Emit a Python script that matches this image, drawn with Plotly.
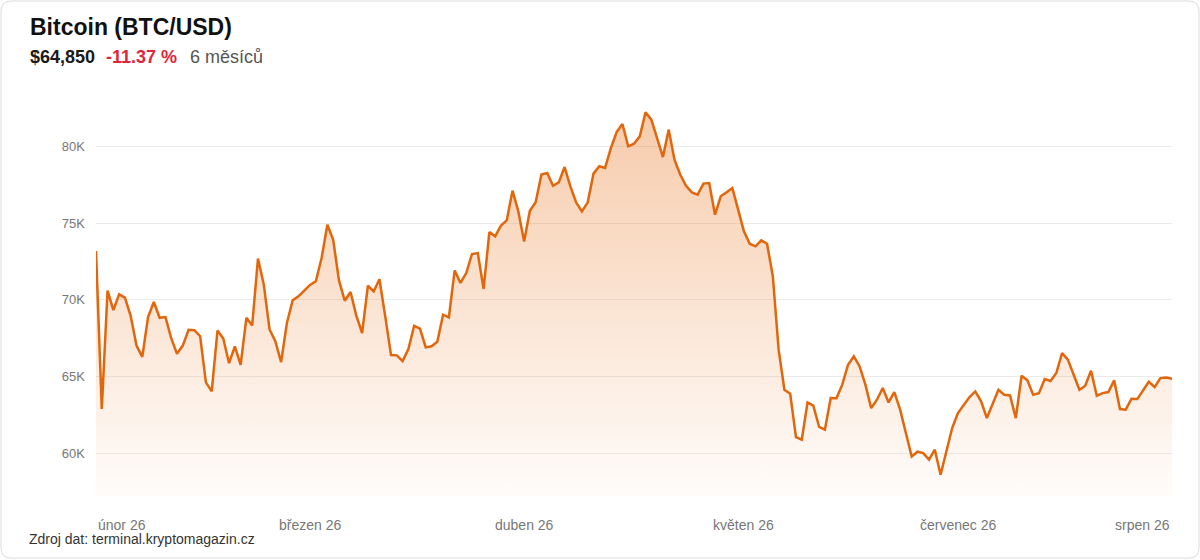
import pandas as pd
import plotly.graph_objects as go

# daily close, thousands of USD
start_date = "2026-02-05"
btc_close_k = [
    73.17, 62.87, 70.59, 69.32, 70.35, 70.13, 68.93, 67.01, 66.27, 68.87,
    69.85, 68.82, 68.87, 67.49, 66.47, 67.01, 68.04, 68.01, 67.62, 64.61,
    64.02, 67.99, 67.47, 65.86, 66.95, 65.75, 68.82, 68.32, 72.68, 71.00,
    68.06, 67.30,
    65.93, 68.48, 69.96, 70.22, 70.59, 70.96, 71.20, 72.72, 74.89, 73.91,
    71.26, 69.93, 70.50, 68.96, 67.83, 70.91, 70.54, 71.33, 68.91, 66.39,
    66.37, 66.00, 66.78, 68.30, 68.11, 66.89, 66.96, 67.26, 69.02, 68.85,
    71.91,
    71.09, 71.74, 72.98, 73.04, 70.70, 74.41, 74.13, 74.83, 75.17, 77.11,
    75.76, 73.80, 75.80, 76.35, 78.17, 78.26, 77.43, 77.65, 78.65, 77.39,
    76.35, 75.76, 76.35, 78.22, 78.70, 78.59, 79.89, 80.93, 81.46, 80.00,
    80.17, 80.65,
    82.22, 81.74, 80.54, 79.30, 81.09, 79.13, 78.15, 77.43, 77.00, 76.85,
    77.57, 77.61, 75.54, 76.74, 77.00, 77.28, 75.87, 74.46, 73.65, 73.48,
    73.87, 73.65, 71.52, 66.74, 64.13, 63.87, 61.04, 60.87, 63.30, 63.09,
    61.70, 61.52, 63.59, 63.57, 64.46, 65.76, 66.30, 65.65, 64.46, 62.93,
    63.48, 64.24, 63.30, 63.98, 62.83, 61.20, 59.78, 60.09, 60.00, 59.57,
    60.22, 58.59, 60.11, 61.63, 62.61, 63.15, 63.65, 64.02, 63.37, 62.28,
    63.20, 64.13,
    63.80, 63.76, 62.28, 65.04, 64.74, 63.80, 63.91, 64.83, 64.70, 65.22,
    66.52, 66.09, 65.11, 64.13, 64.39, 65.37, 63.74, 63.91, 63.98, 64.74,
    62.87, 62.83, 63.54, 63.52, 64.09, 64.65, 64.30, 64.89, 64.93, 64.85,
]
dates = pd.date_range(start_date, periods=len(btc_close_k), freq="D")

y_ticks = [60, 65, 70, 75, 80]
y_ticktext = ["60K", "65K", "70K", "75K", "80K"]
# month labels shown under the chart, at evenly spaced points
x_label_idx = [0, 37, 74, 112, 149, 186]
x_label_text = ["únor 26", "březen 26", "duben 26", "květen 26", "červenec 26", "srpen 26"]

title = "Bitcoin (BTC/USD)"
last_price = "$64,850"
change = "-11.37 %"
period = "6 měsíců"
source = "Zdroj dat: terminal.kryptomagazin.cz"

W, H = 1200, 560
L, R, T, B = 96, 28, 85, 64
y_min, y_max = 57.2, 84.0
LINE = "#e2660b"
FONT = "Liberation Sans, Arial, Helvetica, sans-serif"


def px(x):
    return (x - L) / (W - L - R)


def py(y):
    return (H - B - y) / (H - T - B)


fig = go.Figure()

fig.add_trace(go.Scatter(
    x=dates, y=btc_close_k,
    mode="lines",
    line=dict(color=LINE, width=2.5),
    fill="tozeroy",
    fillgradient=dict(
        type="vertical",
        start=y_min, stop=82.5,
        colorscale=[[0, "rgba(232,110,20,0.02)"], [1, "rgba(232,110,20,0.36)"]],
    ),
    hoverinfo="skip",
    showlegend=False,
))

# header and footer texts
ann = [
    dict(text="<b>" + title + "</b>", x=px(28), y=py(27), font=dict(size=23, color="#111111")),
    dict(text="<b>" + last_price + "</b>", x=px(28), y=py(57), font=dict(size=18, color="#1a1a1a")),
    dict(text="<b>" + change + "</b>", x=px(104), y=py(57), font=dict(size=18, color="#e0263a")),
    dict(text=period, x=px(188), y=py(57), font=dict(size=18, color="#555555")),
    dict(text=source, x=px(27), y=py(539), font=dict(size=14, color="#333333")),
]
for a in ann:
    fig.add_annotation(xref="paper", yref="paper", xanchor="left", yanchor="middle",
                       showarrow=False, **a)

# x labels: first flush left, last flush right
for k, (i, txt) in enumerate(zip(x_label_idx, x_label_text)):
    anchor = "left" if k == 0 else ("right" if k == len(x_label_idx) - 1 else "center")
    fig.add_annotation(x=dates[i], y=py(525), xref="x", yref="paper",
                       text=txt, showarrow=False, xanchor=anchor, yanchor="middle",
                       font=dict(size=14, color="#777777"))

# rounded card border
x0, x1 = px(1), px(1199)
y0, y1 = py(1), py(558)
rx, ry = 10 / (W - L - R), 10 / (H - T - B)
path = (f"M {x0 + rx},{y0} L {x1 - rx},{y0} Q {x1},{y0} {x1},{y0 - ry} "
        f"L {x1},{y1 + ry} Q {x1},{y1} {x1 - rx},{y1} "
        f"L {x0 + rx},{y1} Q {x0},{y1} {x0},{y1 + ry} "
        f"L {x0},{y0 - ry} Q {x0},{y0} {x0 + rx},{y0} Z")
fig.add_shape(type="path", path=path, xref="paper", yref="paper",
              line=dict(color="#dcdcdc", width=1), layer="below")

fig.update_layout(
    width=W, height=H,
    margin=dict(l=L, r=R, t=T, b=B),
    paper_bgcolor="white",
    plot_bgcolor="white",
    font=dict(family=FONT, color="#333333"),
    showlegend=False,
    xaxis=dict(
        range=[dates[0], dates[-1]],
        showgrid=False, zeroline=False, showline=False,
        showticklabels=False, fixedrange=True,
    ),
    yaxis=dict(
        range=[y_min, y_max],
        tickvals=y_ticks, ticktext=y_ticktext,
        showgrid=True, gridcolor="#ebebeb", gridwidth=1,
        zeroline=False, showline=False,
        ticklabelstandoff=10,
        tickfont=dict(size=13, color="#777777"),
        fixedrange=True,
    ),
)

# page has an 8px body margin by default; drop it so the card fills the window
fig.write_html("out.html", config={"displayModeBar": False},
               post_script="document.body.style.margin='0';")
